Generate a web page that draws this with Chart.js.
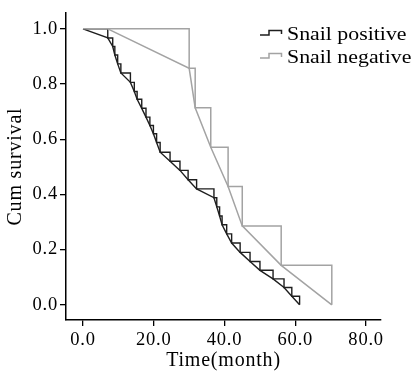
<!DOCTYPE html>
<html><head><meta charset="utf-8">
<style>html,body{margin:0;padding:0;background:#fff}</style>
<script src="https://cdn.jsdelivr.net/npm/chart.js@4.4.1/dist/chart.umd.min.js"></script>
</head><body>
<canvas id="c" width="412" height="371"></canvas>
<script>
// Kaplan-Meier data
const posTimes = [0,7,8.4,9,9.8,10.7,13.4,14.5,15.3,16.6,17.8,18.9,19.9,20.8,21.8,24.6,27.4,29.7,32.1,37.0,37.8,38.6,39.3,40.6,42.0,44.4,47.2,50.0,53.7,56.8,59.0,61.2];
const posSurv  = [1,0.967,0.936,0.905,0.873,0.84,0.806,0.773,0.745,0.712,0.68,0.65,0.62,0.588,0.553,0.52,0.487,0.453,0.42,0.388,0.355,0.322,0.29,0.257,0.224,0.19,0.157,0.125,0.094,0.063,0.031,0];
const negTimes = [0,7,30,31.7,36.1,41,45,56,70.3];
const negSurv  = [1,1,0.857,0.714,0.571,0.429,0.286,0.143,0];
const seriesNames = ['Snail positive','Snail negative'];
const xTicks = [0,20,40,60,80];
const yTicks = [0,0.2,0.4,0.6,0.8,1.0];
const xTitle = 'Time(month)';
const yTitle = 'Cum survival';

const BLACK = '#1e1e1e', GRAY = '#a3a3a3';
const pts = (t,s) => t.map((v,i)=>({x:v,y:s[i]}));
const FONT = 'Liberation Serif, Times New Roman, serif';

const spacingPlugin = {
  id:'spacing',
  beforeDraw(chart){ chart.ctx.letterSpacing = '0.8px'; },
  afterDraw(chart){ chart.ctx.letterSpacing = '0px'; }
};

const legendPlugin = {
  id:'kmLegend',
  afterDraw(chart){
    const ctx = chart.ctx;
    const rows = [{name:seriesNames[0], color:BLACK, y:40},{name:seriesNames[1], color:GRAY, y:63}];
    ctx.save();
    ctx.letterSpacing = '0px';
    rows.forEach(r=>{
      ctx.strokeStyle = r.color; ctx.lineWidth = 1.5;
      ctx.beginPath();
      ctx.moveTo(260, r.y-5); ctx.lineTo(269, r.y-5); ctx.lineTo(269, r.y-9.5);
      ctx.lineTo(281.5, r.y-9.5); ctx.lineTo(281.5, r.y-6);
      ctx.stroke();
      ctx.save();
      ctx.translate(287, r.y);
      ctx.scale(1.12, 1);
      ctx.fillStyle = '#000';
      ctx.font = '19.5px ' + FONT;
      ctx.textBaseline = 'alphabetic'; ctx.textAlign = 'left';
      ctx.fillText(r.name, 0, 0);
      ctx.restore();
    });
    ctx.restore();
  }
};

const tickFont = {family:FONT, size:18.5};
new Chart(document.getElementById('c'), {
  type:'line',
  data:{datasets:[
    {label:seriesNames[1], data:pts(negTimes,negSurv), stepped:true, borderColor:GRAY, borderWidth:1.5, pointRadius:0, fill:false},
    {label:seriesNames[1]+' line', data:pts(negTimes.slice(1),negSurv.slice(1)), borderColor:GRAY, borderWidth:1.5, pointRadius:0, tension:0, fill:false},
    {label:seriesNames[0], data:pts(posTimes,posSurv), stepped:true, borderColor:BLACK, borderWidth:1.4, pointRadius:0, fill:false},
    {label:seriesNames[0]+' line', data:pts(posTimes,posSurv), borderColor:BLACK, borderWidth:1.4, pointRadius:0, tension:0, fill:false}
  ]},
  options:{
    responsive:false, animation:false,
    layout:{padding:{left:0,right:31,top:5,bottom:0}},
    plugins:{legend:{display:false}, tooltip:{enabled:false}},
    scales:{
      x:{type:'linear', min:-4.8, max:84.2,
        afterBuildTicks:s=>{s.ticks = xTicks.map(v=>({value:v}));},
        afterFit:s=>{s.height = 51;},
        ticks:{callback:v=>v.toFixed(1), font:tickFont, color:'#000', padding:3, maxRotation:0, autoSkip:false},
        grid:{drawOnChartArea:false, tickLength:6, color:'#000', lineWidth:1.3},
        border:{color:'#000', width:1.5},
        title:{display:true, text:xTitle, color:'#000', font:{family:FONT, size:20, lineHeight:1}, padding:0}
      },
      y:{type:'linear', min:-0.055, max:1.057,
        afterBuildTicks:s=>{s.ticks = yTicks.map(v=>({value:v}));},
        afterFit:s=>{s.width = 66;},
        ticks:{callback:v=>v.toFixed(1), font:tickFont, color:'#000', padding:2, autoSkip:false},
        grid:{drawOnChartArea:false, tickLength:6, color:'#000', lineWidth:1.3},
        border:{color:'#000', width:1.5},
        title:{display:true, text:yTitle, color:'#000', font:{family:FONT, size:20, lineHeight:1}, padding:{top:6,bottom:0}}
      }
    }
  },
  plugins:[spacingPlugin, legendPlugin]
});
</script>
</body></html>
